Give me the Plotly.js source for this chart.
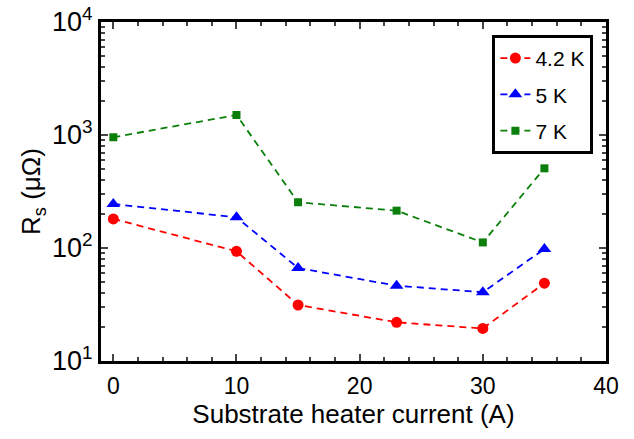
<!DOCTYPE html>
<html>
<head>
<meta charset="utf-8">
<script src="https://cdn.plot.ly/plotly-3.0.1.min.js"></script>
<style>html,body{margin:0;padding:0;background:#fff;}#chart{width:634px;height:439px;}</style>
</head>
<body>
<div id="chart"></div>
<script>
const current = [0, 10, 15, 23, 30, 35];
const rs42K = [181, 93.5, 31.3, 22, 19.4, 48.8];
const rs5K = [245, 187, 66.5, 46.4, 40.6, 98];
const rs7K = [955, 1503, 254, 214, 112, 507];
const seriesNames = ['4.2 K', '5 K', '7 K'];
const yTickVals = [10, 100, 1000, 10000];
const yTickText = ['10<sup>1</sup>', '10<sup>2</sup>', '10<sup>3</sup>', '10<sup>4</sup>'];
const xTickVals = [0, 10, 20, 30, 40];

const yMinor = [];
for (let d = 10; d < 10000; d *= 10) for (let k = 2; k <= 9; k++) yMinor.push(d * k);

const fontFam = 'Liberation Sans, Arial, sans-serif';
function tr(y, name, color, symbol, size, g) {
  return {x: current, y: y, name: name, type: 'scatter', mode: 'lines+markers', legendgroup: g,
    line: {color: color, width: 1.8, dash: '7px,5px'},
    marker: {color: color, symbol: symbol, size: size}};
}
const data = [
  tr(rs42K, seriesNames[0], '#ff0000', 'circle', 11, 'a'),
  tr(rs5K, seriesNames[1], '#0000ff', 'triangle-up', 12, 'b'),
  tr(rs7K, seriesNames[2], '#0a800a', 'square', 8, 'c')
];
const layout = {
  width: 634, height: 439,
  margin: {l: 101, r: 28, t: 22, b: 78},
  paper_bgcolor: '#fff', plot_bgcolor: '#fff',
  font: {family: fontFam, color: '#000', size: 20},
  showlegend: true,
  legend: {x: 0.975, y: 0.962, xanchor: 'right', yanchor: 'top', bordercolor: '#000', borderwidth: 3,
    bgcolor: '#fff', font: {size: 21, family: fontFam}, traceorder: 'grouped', tracegroupgap: 6, itemwidth: 30},
  xaxis: {range: [-1, 40], tickvals: xTickVals, ticks: 'inside', ticklen: 7, tickwidth: 2,
    showline: true, linewidth: 3, linecolor: '#000', mirror: 'ticks', showgrid: false, zeroline: false,
    tickfont: {size: 23}, ticklabelstandoff: 2,
    minor: {dtick: 2, tick0: 0, ticks: 'inside', ticklen: 4, tickwidth: 2, showgrid: false},
    title: {text: 'Substrate heater current (A)', font: {size: 26}, standoff: 4}},
  yaxis: {type: 'log', range: [1, 4], tickvals: yTickVals, ticktext: yTickText, ticks: 'inside', ticklen: 7, tickwidth: 2,
    showline: true, linewidth: 3, linecolor: '#000', mirror: 'ticks', showgrid: false, zeroline: false,
    tickfont: {size: 27},
    minor: {tickmode: 'array', tickvals: yMinor, ticks: 'inside', ticklen: 4, tickwidth: 2, showgrid: false},
    title: {text: 'R<sub>s</sub> (μΩ)', font: {size: 26}, standoff: 4}}
};
Plotly.newPlot('chart', data, layout, {staticPlot: true});
</script>
</body>
</html>
